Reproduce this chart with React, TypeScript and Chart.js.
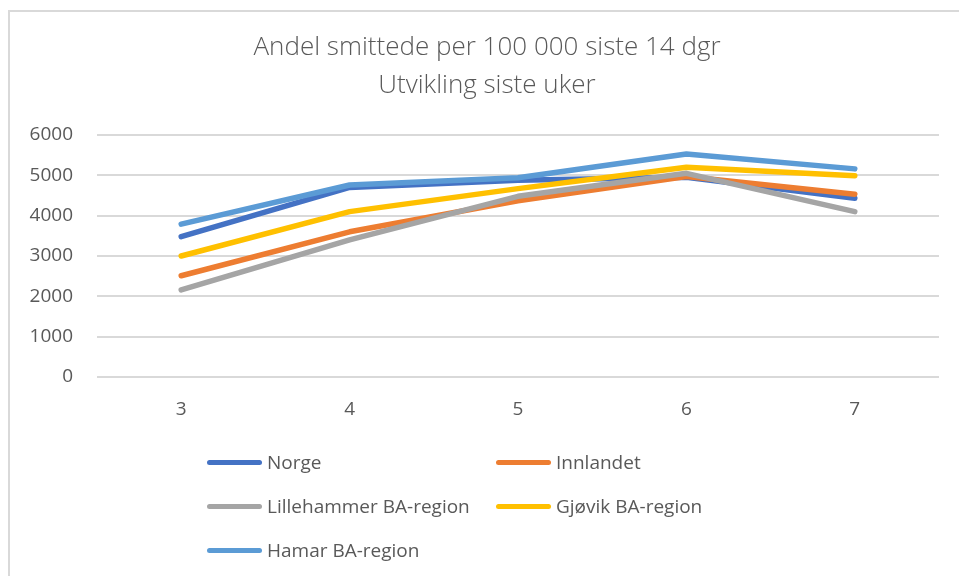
import React, { useEffect, useRef } from 'react';
import { Chart, registerables } from 'chart.js';

Chart.register(...registerables);

// ---- data ----
const weeks = ['3', '4', '5', '6', '7'];
const norge = [3480, 4700, 4880, 4950, 4430];
const innlandet = [2510, 3600, 4370, 4970, 4530];
const lillehammer = [2160, 3400, 4480, 5050, 4100];
const gjovik = [3000, 4100, 4670, 5200, 4990];
const hamar = [3790, 4760, 4940, 5530, 5160];
const seriesNames = ['Norge', 'Innlandet', 'Lillehammer BA-region', 'Gjøvik BA-region', 'Hamar BA-region'];
const seriesColors = ['#4472C4', '#ED7D31', '#A5A5A5', '#FFC000', '#5B9BD5'];
const titleLines = ['Andel smittede per 100 000 siste 14 dgr', 'Utvikling siste uker'];
const yMin = 0;
const yMax = 6000;
const yStep = 1000;

const seriesValues = [norge, innlandet, lillehammer, gjovik, hamar];

const TEXT = '#595959';
const FONT = "'Open Sans', 'DejaVu Sans', sans-serif";

// legend layout (Excel-style grid, 2 columns)
const legendCols = [207, 496];
const legendRows = [462, 506, 550];

// centre the title on the (wider) chart frame, like Excel does
const titleFramePlugin = {
  id: 'titleFrame',
  afterLayout(chart: any) {
    const t = chart.titleBlock;
    if (t) {
      t.left = 8;
      t.right = 966;
    }
  },
};

export default function App() {
  const canvasRef = useRef<HTMLCanvasElement | null>(null);

  useEffect(() => {
    if (!canvasRef.current) return;
    const chart = new Chart(canvasRef.current, {
      type: 'line',
      data: {
        labels: weeks,
        datasets: seriesNames.map((name, i) => ({
          label: name,
          data: seriesValues[i],
          borderColor: seriesColors[i],
          backgroundColor: seriesColors[i],
          borderWidth: 5.5,
          borderCapStyle: 'round' as const,
          borderJoinStyle: 'round' as const,
          pointRadius: 0,
          pointHoverRadius: 0,
          tension: 0,
          fill: false,
          order: seriesNames.length - 1 - i,
        })),
      },
      plugins: [titleFramePlugin],
      options: {
        animation: false,
        responsive: false,
        maintainAspectRatio: false,
        layout: { padding: { left: 8, right: 20, top: 0, bottom: 0 } },
        plugins: {
          legend: { display: false },
          tooltip: { enabled: false },
          title: {
            display: true,
            text: titleLines,
            color: TEXT,
            font: { family: FONT, size: 26, weight: 300 as any, lineHeight: 38 / 26 },
            padding: { top: 29, bottom: 30 },
          },
        },
        scales: {
          x: {
            offset: true,
            grid: { display: false, drawTicks: false, offset: true },
            border: { display: false },
            ticks: { color: TEXT, font: { family: FONT, size: 19 }, padding: 21 },
            afterFit: (s: any) => {
              s.height = 199;
            },
          },
          y: {
            min: yMin,
            max: yMax,
            ticks: {
              stepSize: yStep,
              color: TEXT,
              font: { family: FONT, size: 19 },
              padding: 24,
              callback: (v: any) => String(v),
            },
            grid: { color: '#d9d9d9', lineWidth: 2, drawTicks: false },
            border: { display: false },
            afterFit: (s: any) => {
              s.width = 89;
            },
          },
        },
      },
    });
    return () => chart.destroy();
  }, []);

  return (
    <div
      style={{
        position: 'fixed',
        left: 0,
        top: 0,
        width: 959,
        height: 576,
        overflow: 'hidden',
        background: '#fff',
      }}
    >
      <div
        style={{
          position: 'absolute',
          left: 8,
          top: 10,
          width: 1000,
          height: 600,
          borderLeft: '2px solid #d9d9d9',
          borderTop: '2px solid #d9d9d9',
        }}
      />
      <canvas ref={canvasRef} width={959} height={576} style={{ position: 'absolute', left: 0, top: 0 }} />
      {seriesNames.map((name, i) => {
        const x = legendCols[i % 2];
        const y = legendRows[Math.floor(i / 2)];
        return (
          <div key={name}>
            <div
              style={{
                position: 'absolute',
                left: x,
                top: y - 2.5,
                width: 55,
                height: 5,
                borderRadius: 3,
                background: seriesColors[i],
              }}
            />
            <div
              style={{
                position: 'absolute',
                left: x + 60,
                top: y - 14,
                height: 28,
                lineHeight: '28px',
                fontFamily: FONT,
                fontSize: 19,
                color: TEXT,
                whiteSpace: 'nowrap',
              }}
            >
              {name}
            </div>
          </div>
        );
      })}
    </div>
  );
}
